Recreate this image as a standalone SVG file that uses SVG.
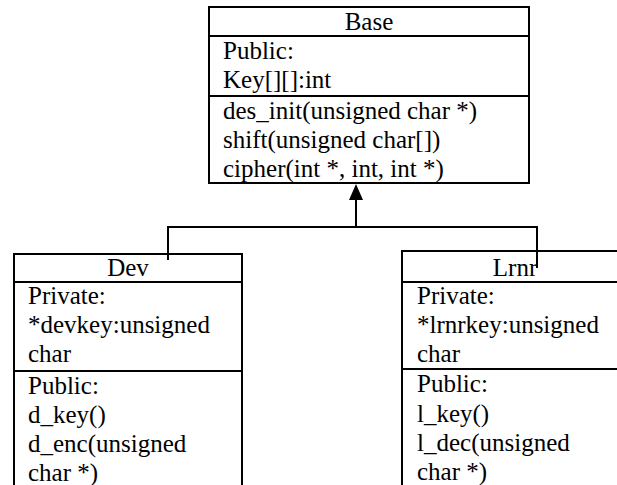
<svg xmlns="http://www.w3.org/2000/svg" width="617" height="485" viewBox="0 0 617 485">
<style>
.box{fill:#fff;stroke:#000;stroke-width:2}
.sep{stroke:#000;stroke-width:2}
text{font-family:"Liberation Serif","Times New Roman",serif;font-size:25px;fill:#000}
.t{text-anchor:middle}
.conn{fill:none;stroke:#000;stroke-width:2}
</style>
<rect width="617" height="485" fill="#fff"/>
<g id="base">
<rect class="box" x="209" y="7" width="320" height="176"/>
<line class="sep" x1="209" y1="36" x2="529" y2="36"/>
<line class="sep" x1="209" y1="96" x2="529" y2="96"/>
<text class="t" x="369" y="29.5">Base</text>
<text x="223" y="58.5">Public:</text>
<text x="223" y="88">Key[][]:int</text>
<text x="223" y="118.5">des_init(unsigned char *)</text>
<text x="223" y="148">shift(unsigned char[])</text>
<text x="223" y="177">cipher(int *, int, int *)</text>
</g>
<g id="dev">
<rect class="box" x="14" y="254" width="228" height="250"/>
<line class="sep" x1="14" y1="282" x2="242" y2="282"/>
<line class="sep" x1="14" y1="371" x2="242" y2="371"/>
<text class="t" x="128" y="275.5">Dev</text>
<text x="28" y="304">Private:</text>
<text x="28" y="333">*devkey:unsigned</text>
<text x="28" y="362">char</text>
<text x="28" y="393.5">Public:</text>
<text x="28" y="423">d_key()</text>
<text x="28" y="452">d_enc(unsigned</text>
<text x="28" y="481">char *)</text>
</g>
<g id="lrnr">
<rect class="box" x="402" y="251" width="240" height="250"/>
<line class="sep" x1="402" y1="282" x2="642" y2="282"/>
<line class="sep" x1="402" y1="369" x2="642" y2="369"/>
<text class="t" x="515" y="275.5">Lrnr</text>
<text x="417" y="304">Private:</text>
<text x="417" y="333">*lrnrkey:unsigned</text>
<text x="417" y="362">char</text>
<text x="417" y="392">Public:</text>
<text x="417" y="421.5">l_key()</text>
<text x="417" y="451">l_dec(unsigned</text>
<text x="417" y="480">char *)</text>
</g>
<g id="connectors">
<polyline class="conn" points="168,260 168,227 537,227 537,268"/>
<line class="conn" x1="356" y1="227" x2="356" y2="198"/>
<polygon points="356,184 349,200 363,200" fill="#000"/>
</g>
</svg>
